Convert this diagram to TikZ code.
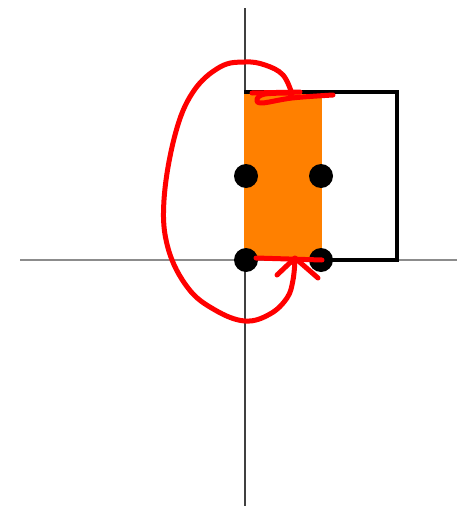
\documentclass[tikz,border=0pt]{standalone}
\definecolor{fillorange}{RGB}{255,128,0}
\tikzset{
  haxis/.style={draw=gray!90, line width=1.6pt},
  vaxis/.style={draw=black!75, line width=1.6pt},
  frame/.style={draw=black, line width=3.2pt, line join=miter},
  dot/.style={circle, fill=black, inner sep=0pt, minimum size=24pt},
  redpen/.style={draw=red, line width=5pt, line cap=round, line join=round}
}
\begin{document}
\begin{tikzpicture}[x=1pt,y=-1pt]
\useasboundingbox (0,0) rectangle (457,506);
% axes
\draw[haxis] (20,260) -- (457,260);
\draw[vaxis] (245,8) -- (245,506);
% orange strip
\fill[fillorange] (244,92) rectangle (322,260);
% black frame
\draw[frame] (244,92) -- (397,92) -- (397,260) -- (321,260);
% dots
\node[dot] (d1) at (246,176) {};
\node[dot] (d2) at (321,176) {};
\node[dot] (d3) at (246,260) {};
\node[dot] (d4) at (321,260) {};
% red loop
\draw[redpen] plot[smooth, tension=0.65] coordinates {(292,94) (283,75) (265,65) (245,62) (220,67) (193,92) (175,135) (164,200) (168,248) (188,288) (215,310) (245,321) (270,314) (287,298) (293,280) (295,259)};
\draw[redpen] (277,275) -- (295,258) -- (318,278);
\draw[redpen] (256,258) -- (322,260);
\draw[redpen] plot[smooth, tension=0.6] coordinates {(292,93) (265,94) (257,99) (262,103) (292,98) (333,95)};
\draw[redpen] (252,93) -- (300,92);
\end{tikzpicture}
\end{document}
